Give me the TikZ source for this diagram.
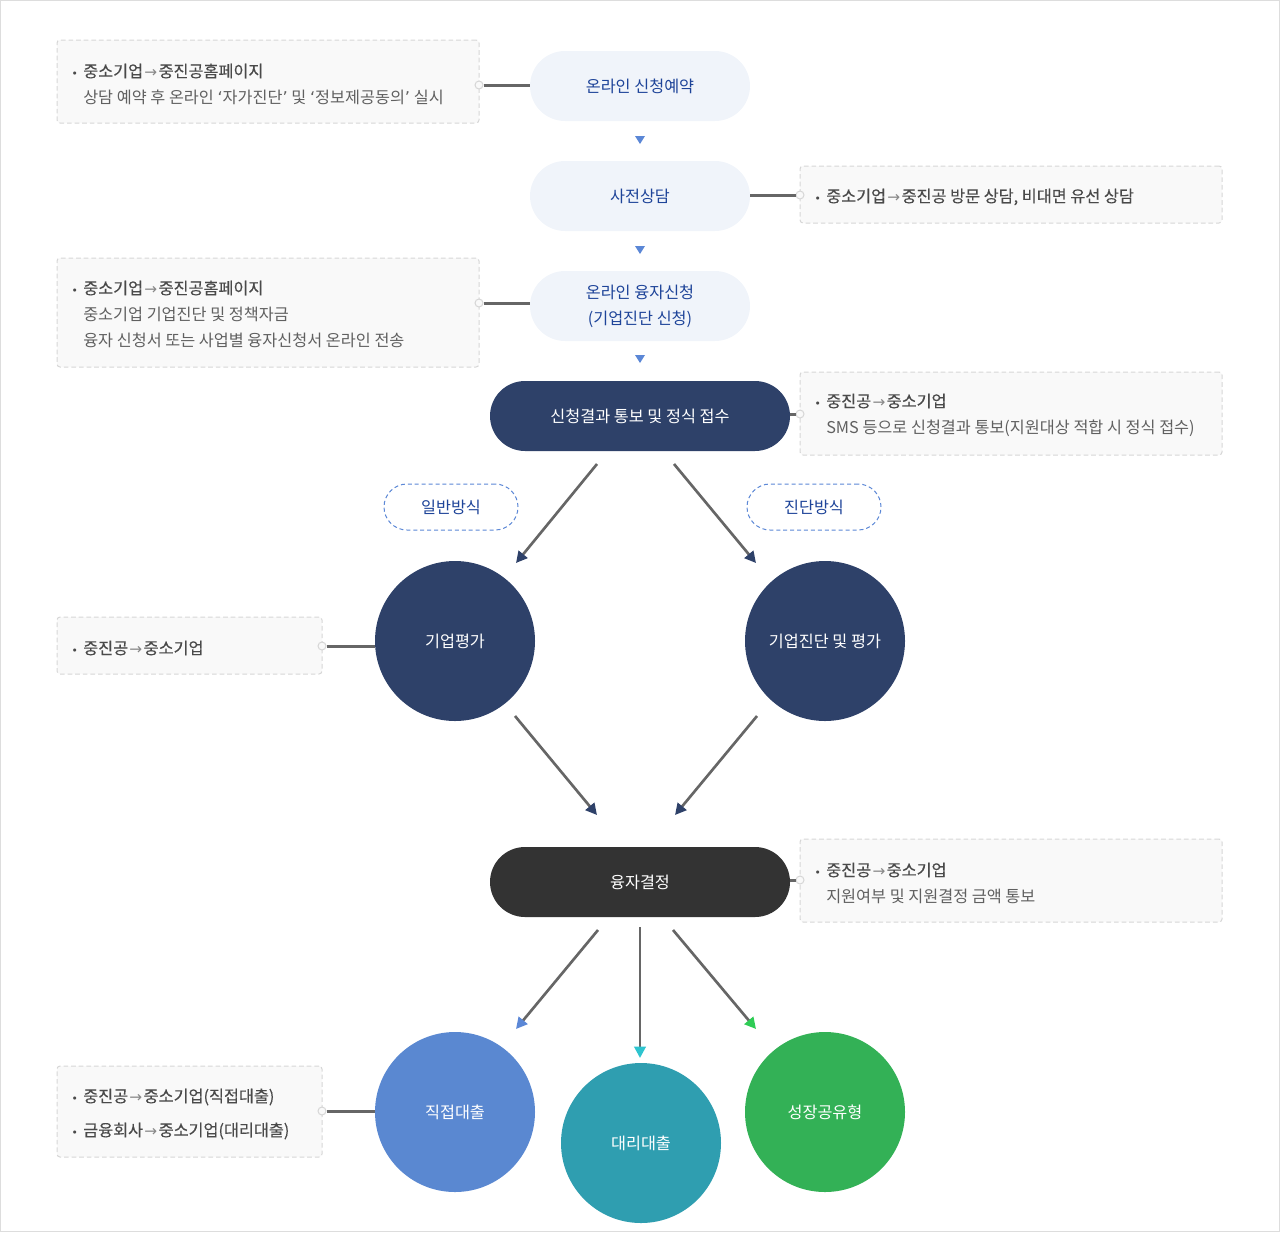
\documentclass[tikz,border=0pt]{standalone}
\usepackage{fontspec}
\setmainfont{Noto Sans CJK KR}
\newfontfamily\dv{DejaVu Sans}
\newfontfamily\kmed[FakeBold=0.25]{Noto Sans CJK KR}
\usetikzlibrary{arrows.meta}
\definecolor{pillfill}{HTML}{F0F4FA}
\definecolor{bluetxt}{HTML}{1E4499}
\definecolor{navy}{HTML}{2E4169}
\definecolor{darkpill}{HTML}{333333}
\definecolor{linegray}{HTML}{666666}
\definecolor{triblue}{HTML}{5B87D6}
\definecolor{boxfill}{HTML}{F9F9F9}
\definecolor{boxline}{HTML}{D6D6D6}
\definecolor{txtdark}{HTML}{4A4A4A}
\definecolor{txtgray}{HTML}{606060}
\definecolor{arrgray}{HTML}{8A8A8A}
\definecolor{cblue}{HTML}{5A88D1}
\definecolor{cteal}{HTML}{2F9EB0}
\definecolor{cgreen}{HTML}{33B156}
\definecolor{tteal}{HTML}{2EC4CF}
\definecolor{tgreen}{HTML}{2FCC55}
\definecolor{frame}{HTML}{DDDDDD}
\newcommand\fs{\fontsize{12.2}{19.5}\selectfont}
\newcommand\bul{\llap{{\dv\fontsize{8}{8}\selectfont\textcolor{txtdark}{•}}\hspace{4pt}}}
\newcommand\rarr{\hspace{1pt}{\dv\fontsize{11.5}{11.5}\selectfont\textcolor{arrgray}{→}}\hspace{1pt}}
\newcommand\oq{{\dv ‘}}
\newcommand\cq{{\dv ’}}
\tikzset{
  box/.style={draw=boxline, fill=boxfill, dash pattern=on 3.5pt off 2.2pt, line width=0.75pt, rounded corners=2.25pt, inner sep=0},
  lpill/.style={fill=pillfill, rounded corners=26.25pt, minimum width=165pt, minimum height=52.5pt, text=bluetxt, font=\fs, align=center, inner sep=0},
  dpill/.style={fill=navy, rounded corners=26.25pt, minimum width=225pt, minimum height=52.5pt, text=white, font=\fs, align=center, inner sep=0},
  dashpill/.style={draw=triblue, dash pattern=on 3pt off 2.2pt, line width=0.75pt, fill=white, rounded corners=17.25pt, minimum width=100.5pt, minimum height=34.5pt, text=bluetxt, font=\fs, inner sep=0},
  circ/.style={circle, minimum size=120pt, text=white, font=\fs, inner sep=0},
  knob/.style={circle, draw=boxline, fill=boxfill, minimum size=6pt, inner sep=0, line width=0.75pt},
  link/.style={draw=linegray, line width=2.25pt},
  flow/.style={draw=linegray, line width=2pt},
  txt/.style={anchor=west, align=left, inner sep=0, font=\fs, text=txtgray},
  tri/.style={fill=triblue},
}
\begin{document}
\begin{tikzpicture}[x=0.75pt,y=-0.75pt]
\useasboundingbox (0,0) rectangle (1280,1232);
\draw[frame, line width=0.75pt] (0.5,0.5) rectangle (1279.5,1231.5);

% info boxes
\node[box, minimum width=316.5pt, minimum height=62.25pt] (b1) at (268,81.5) {};
\node[box, minimum width=316.5pt, minimum height=42.75pt] (b2) at (1011,194.5) {};
\node[box, minimum width=316.5pt, minimum height=81.75pt] (b3) at (268,312.5) {};
\node[box, minimum width=316.5pt, minimum height=62.25pt] (b4) at (1011,413.5) {};
\node[box, minimum width=198.75pt, minimum height=42.75pt] (b5) at (189.5,645.5) {};
\node[box, minimum width=316.5pt, minimum height=62.25pt] (b6) at (1011,880.5) {};
\node[box, minimum width=198.75pt, minimum height=68.25pt] (b7) at (189.5,1111.5) {};

\node[txt] (t1) at (83,84) {\bul{\kmed\textcolor{txtdark}{중소기업\rarr 중진공홈페이지}}\\상담 예약 후 온라인 \oq 자가진단\cq{} 및 \oq 정보제공동의\cq{} 실시};
\node[txt] (t2) at (826,197) {\bul{\kmed\textcolor{txtdark}{중소기업\rarr 중진공 방문 상담, 비대면 유선 상담}}};
\node[txt] (t3) at (83,314) {\bul{\kmed\textcolor{txtdark}{중소기업\rarr 중진공홈페이지}}\\중소기업 기업진단 및 정책자금\\융자 신청서 또는 사업별 융자신청서 온라인 전송};
\node[txt] (t4) at (826,415) {\bul{\kmed\textcolor{txtdark}{중진공\rarr 중소기업}}\\SMS 등으로 신청결과 통보(지원대상 적합 시 정식 접수)};
\node[txt] (t5) at (83,648) {\bul{\kmed\textcolor{txtdark}{중진공\rarr 중소기업}}};
\node[txt] (t6) at (826,883) {\bul{\kmed\textcolor{txtdark}{중진공\rarr 중소기업}}\\지원여부 및 지원결정 금액 통보};
\node[txt] (t7) at (83,1114) {\bul{\kmed\textcolor{txtdark}{중진공\rarr 중소기업(직접대출)}}\\[6pt]\bul{\kmed\textcolor{txtdark}{금융회사\rarr 중소기업(대리대출)}}};

% process pills
\node[lpill] (p1) at (640,86) {온라인 신청예약};
\node[lpill] (p2) at (640,196) {사전상담};
\node[lpill] (p3) at (640,306) {온라인 융자신청\\(기업진단 신청)};
\node[dpill] (p4) at (640,416) {신청결과 통보 및 정식 접수};
\node[dpill, fill=darkpill] (p5) at (640,882) {융자결정};

\node[dashpill] (m1) at (451,507) {일반방식};
\node[dashpill] (m2) at (814,507) {진단방식};

\node[circ, fill=navy] (e1) at (455,641) {기업평가};
\node[circ, fill=navy] (e2) at (825,641) {기업진단 및 평가};
\node[circ, fill=cblue] (l1) at (455,1112) {직접대출};
\node[circ, fill=cteal] (l2) at (641,1143) {대리대출};
\node[circ, fill=cgreen] (l3) at (825,1112) {성장공유형};

% small down triangles
\fill[tri] (635,136) -- (645,136) -- (640,144) -- cycle;
\fill[tri] (635,246) -- (645,246) -- (640,254) -- cycle;
\fill[tri] (635,355) -- (645,355) -- (640,363) -- cycle;

% knobs + links
\node[knob] (k1) at (479,85) {};
\node[knob] (k2) at (800,195) {};
\node[knob] (k3) at (479,303) {};
\node[knob] (k4) at (800,414) {};
\node[knob] (k5) at (322,646) {};
\node[knob] (k6) at (800,880) {};
\node[knob] (k7) at (322,1111) {};
\draw[link] (k1) -- (p1.west |- k1);
\draw[link] (p2.east |- k2) -- (k2);
\draw[link] (k3) -- (p3.west |- k3);
\draw[link] (p4.east |- k4) -- (k4);
\draw[link] (k5) -- (e1.west |- k5);
\draw[link] (p5.east |- k6) -- (k6);
\draw[link] (k7) -- (l1.west |- k7);

% flow arrows
\coordinate (s1) at (597,464); \coordinate (f1) at (516,563);
\coordinate (s2) at (674,464); \coordinate (f2) at (756,563);
\coordinate (s3) at (515,716); \coordinate (f3) at (597,815);
\coordinate (s4) at (757,716); \coordinate (f4) at (675,815);
\coordinate (s5) at (598,930); \coordinate (f5) at (516,1029);
\coordinate (s6) at (640,927); \coordinate (f6) at (640,1058);
\coordinate (s7) at (673,930); \coordinate (f7) at (756,1029);
\draw[flow, -{Triangle[length=8.5pt,width=8.5pt,color=navy]}] (s1) -- (f1);
\draw[flow, -{Triangle[length=8.5pt,width=8.5pt,color=navy]}] (s2) -- (f2);
\draw[flow, -{Triangle[length=8.5pt,width=8.5pt,color=navy]}] (s3) -- (f3);
\draw[flow, -{Triangle[length=8.5pt,width=8.5pt,color=navy]}] (s4) -- (f4);
\draw[flow, -{Triangle[length=8.5pt,width=8.5pt,color=triblue]}] (s5) -- (f5);
\draw[flow, -{Triangle[length=8.5pt,width=8.5pt,color=tteal]}] (s6) -- (f6);
\draw[flow, -{Triangle[length=8.5pt,width=8.5pt,color=tgreen]}] (s7) -- (f7);
\end{tikzpicture}
\end{document}
